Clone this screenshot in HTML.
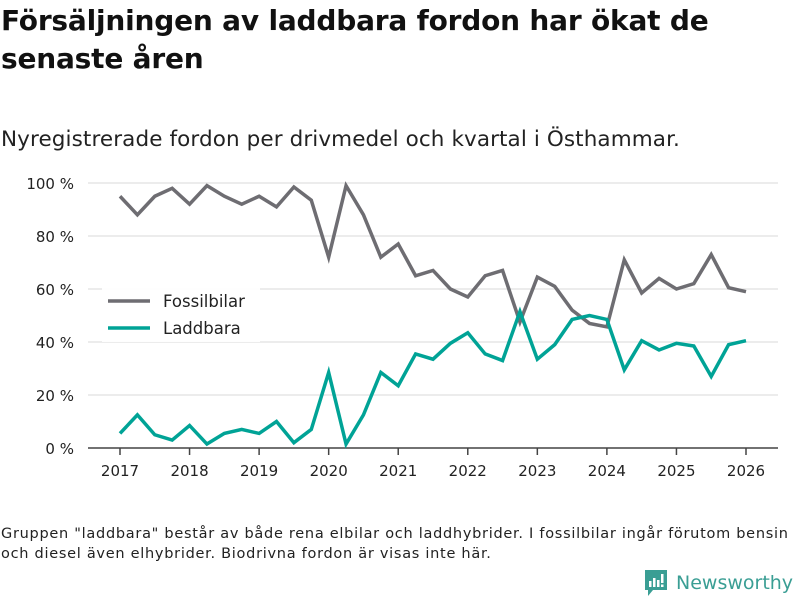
<!DOCTYPE html>
<html><head><meta charset="utf-8"><style>
body{margin:0;background:#fff;width:800px;height:600px;overflow:hidden;font-family:"DejaVu Sans","Liberation Sans",sans-serif;color:#111}
#title{position:absolute;left:1px;top:2px;font-size:28px;font-weight:bold;line-height:38px;letter-spacing:-0.2px}
#sub{position:absolute;left:1px;top:127px;font-size:21.5px;color:#222;letter-spacing:0.1px}
#foot{position:absolute;left:1px;top:524px;font-size:14.5px;line-height:20px;color:#222;letter-spacing:0.72px}
</style></head><body>
<div id="title">Försäljningen av laddbara fordon har ökat de<br>senaste åren</div>
<div id="sub">Nyregistrerade fordon per drivmedel och kvartal i Östhammar.</div>
<svg id="chart" width="800" height="600" style="position:absolute;left:0;top:0"></svg>
<div id="foot">Gruppen "laddbara" består av både rena elbilar och laddhybrider. I fossilbilar ingår förutom bensin<br>och diesel även elhybrider. Biodrivna fordon är visas inte här.</div>
<div style="position:absolute;left:644px;top:569px;display:flex;align-items:center">
<svg width="24" height="28" viewBox="0 0 24 28"><path d="M1 1h22v20H9l-5 6v-6H1z" fill="#3a9e94"/><rect x="5" y="12" width="2.5" height="6" fill="#fff"/><rect x="9" y="9" width="2.5" height="9" fill="#fff"/><rect x="13" y="11" width="2.5" height="7" fill="#fff"/><rect x="17" y="5" width="2.5" height="9" fill="#fff"/><rect x="17" y="15.5" width="2.5" height="2.5" fill="#fff"/></svg>
<span style="margin-left:8px;font-size:19px;color:#3a9e94;font-family:'DejaVu Sans',sans-serif">Newsworthy</span></div>
<script>
const years=[2017,2018,2019,2020,2021,2022,2023,2024,2025,2026];
const yTicks=[0,20,40,60,80,100];
const fossil=[95,88,95,98,92,99,95,92,95,91,98.5,93.5,72,99,88,72,77,65,67,60,57,65,67,47.5,64.5,61,52,47,45.7,71,58.5,64,60,62,73,60.5,59];
const laddbara=[5.5,12.5,5,3,8.5,1.5,5.5,7,5.5,10,2,7,28.5,1.5,12.5,28.5,23.5,35.5,33.5,39.5,43.5,35.5,33,51.5,33.5,39,48.5,50,48.5,29.5,40.5,37,39.5,38.5,27,39,40.5];
const svg=document.getElementById('chart');const NS='http://www.w3.org/2000/svg';
const X0=120,X1=746,Y0=448,Y1=183,L=88,R=778;
const xs=i=>X0+(i/4)*(X1-X0)/9;const xy=y=>X0+(y-2017)*(X1-X0)/9;
const ys=v=>Y0-(v/100)*(Y0-Y1);
function mk(t,a){const e=document.createElementNS(NS,t);for(const k in a)e.setAttribute(k,a[k]);svg.appendChild(e);return e;}
yTicks.forEach(v=>{
 const g=mk('line',{x1:L,x2:R,y1:ys(v),y2:ys(v),stroke:v?'#e0e0e0':'#444','stroke-width':v?1.3:1.5});
 
 
 const t=mk('text',{x:74,y:ys(v)+6,'text-anchor':'end','font-size':15,fill:'#222'});t.textContent=v+' %';
 
 
});
years.forEach(y=>{
 const l=mk('line',{x1:xy(y),x2:xy(y),y1:Y0,y2:Y0+7,stroke:'#444','stroke-width':1.5});
 
 
 const t=mk('text',{x:xy(y),y:Y0+28,'text-anchor':'middle','font-size':15,fill:'#222'});t.textContent=y;
 
 
});
function line(d,c,n){const p=mk('polyline',{points:d.map((v,i)=>xs(i)+','+ys(v)).join(' '),fill:'none',stroke:c,'stroke-width':3.5,'stroke-linejoin':'miter'});
 
 }
line(fossil,'#6e6d72','fossilbilar-line');
line(laddbara,'#00a396','laddbara-line');
const bg=mk('rect',{x:102,y:288,width:158,height:54,fill:'#fff',opacity:0.95});


[['Fossilbilar','#6e6d72',301],['Laddbara','#00a396',328]].forEach(([n,c,y])=>{
 const l=mk('line',{x1:108,x2:150,y1:y,y2:y,stroke:c,'stroke-width':3.5});
 
 
 const t=mk('text',{x:163,y:y+6,'font-size':16.5,fill:'#222'});t.textContent=n;
 
 
});
</script>
</body></html>
